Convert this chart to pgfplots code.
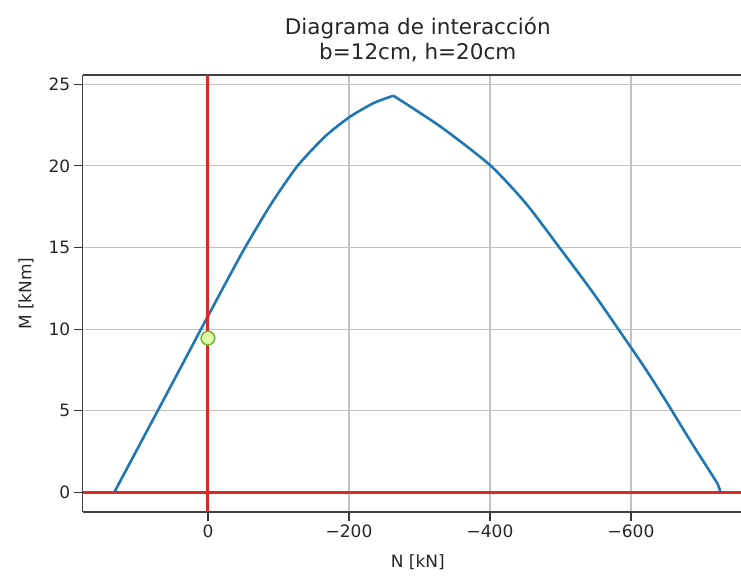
\documentclass[border=0pt]{standalone}
\usepackage{fontspec}
\setmainfont{DejaVu Sans}
\usepackage{pgfplots}
\pgfplotsset{compat=1.18}
\definecolor{mplblue}{HTML}{1F77B4}
\definecolor{mred}{RGB}{222,40,40}
\definecolor{dotfill}{RGB}{225,255,170}
\definecolor{dotedge}{RGB}{120,185,50}
\begin{document}
\begin{tikzpicture}
\useasboundingbox (0,0) rectangle (741pt,580pt);
\begin{axis}[
  at={(82.7pt,68pt)}, anchor=south west,
  scale only axis, width=658.3pt, height=436.7pt,
  x dir=reverse,
  xmin=-756, xmax=177.7, ymin=-1.2, ymax=25.55,
  axis x line*=box, axis y line*=left,
  xtick pos=bottom, ytick pos=left,
  xtick={0,-200,-400,-600},
  xticklabels={0,−200,−400,−600},
  ytick={0,5,10,15,20,25},
  /pgf/number format/assume math mode=true,
  tick label style={font=\fontsize{17}{20}\selectfont, text=black!85},
  label style={font=\fontsize{17}{20}\selectfont, text=black!85},
  title style={font=\fontsize{21.5}{25}\selectfont, text=black!85, align=center, at={(0.509,1)}, anchor=south, yshift=4pt},
  title={Diagrama de interacción\\b=12cm, h=20cm},
  xlabel={N [kN]}, ylabel={M [kNm]},
  xlabel style={at={(ticklabel cs:0.509)}, yshift=-10pt},
  ylabel style={yshift=8pt},
  grid=major,
  major grid style={color=black!24, line width=1.2pt},
  tick align=outside,
  major tick length=9pt,
  every tick/.style={black!80, line width=1.2pt},
  axis line style={black!75, line width=1.6pt},
  clip=true,
]
\addplot[mplblue, line width=2.6pt, smooth, tension=0.4, line join=round] coordinates {
(133,0) (104,2.35) (75,4.7) (43,7.3) (13,9.75) (0,10.8) (-26,12.9) (-52.6,15)
(-90,17.7) (-127,20) (-166,21.8) (-201,23.0) (-235,23.85) (-263,24.3)
};
\addplot[mplblue, line width=2.6pt, smooth, tension=0.4, line join=round] coordinates {
(-263,24.3) (-330,22.4) (-400,20.05) (-450,17.75) (-495,15.2) (-545,12.3)
(-590,9.5) (-620,7.6) (-651,5.5) (-685,3.1) (-716,1.0) (-723,0.5) (-727,0)
};
\addplot[mred, line width=3pt] coordinates {(177.7,0) (-756,0)};
\addplot[mred, line width=3pt] coordinates {(0,-1.2) (0,25.55)};
\addplot[only marks, mark=*, mark size=6.8pt, mark options={fill=dotfill, draw=dotedge, line width=1.6pt}] coordinates {(0,9.45)};
\end{axis}
\end{tikzpicture}
\end{document}
